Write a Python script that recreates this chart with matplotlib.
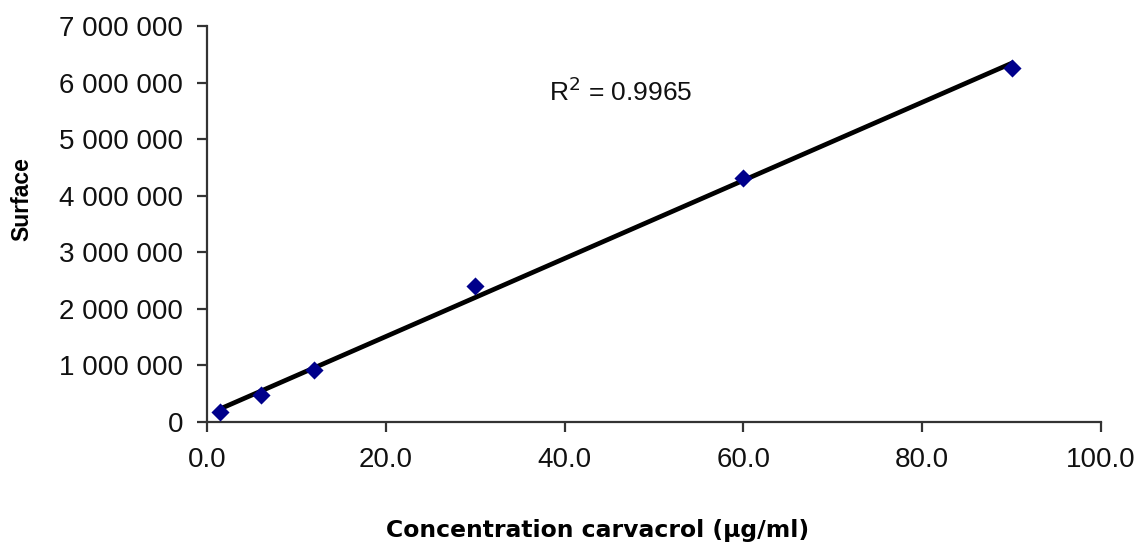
import matplotlib
matplotlib.use("Agg")
import matplotlib.pyplot as plt
import numpy as np
from matplotlib.ticker import FuncFormatter, MultipleLocator

plt.rcParams['font.family'] = ['Liberation Sans', 'DejaVu Sans']

conc = [1.5, 6.0, 12.0, 30.0, 60.0, 90.0]
surface = [180000, 480000, 920000, 2400000, 4310000, 6260000]
r2_text = "R$^2$ = 0.9965"

fig = plt.figure(figsize=(11.39, 5.46), dpi=100)
ax = fig.add_axes([0.1817, 0.2271, 0.785, 0.7253])

slope, intercept = np.polyfit(conc, surface, 1)
xl = np.array([min(conc), max(conc)])
ax.plot(xl, slope * xl + intercept, color='black', lw=3.4, zorder=2)
ax.scatter(conc, surface, marker='D', s=85, color='#00008B', zorder=3, linewidths=0)

ax.set_xlim(0, 100)
ax.set_ylim(0, 7000000)
ax.xaxis.set_major_locator(MultipleLocator(20))
ax.yaxis.set_major_locator(MultipleLocator(1000000))
ax.xaxis.set_major_formatter(FuncFormatter(lambda v, p: f"{v:.1f}"))
ax.yaxis.set_major_formatter(FuncFormatter(lambda v, p: f"{int(round(v)):,}".replace(",", " ")))

for s in ['top', 'right']:
    ax.spines[s].set_visible(False)
for s in ['left', 'bottom']:
    ax.spines[s].set_linewidth(1.6)
    ax.spines[s].set_color('#333333')
ax.tick_params(axis='both', direction='out', length=7, width=1.6, color='#333333',
               labelsize=20, labelcolor='#111111')
ax.tick_params(axis='x', pad=11)
ax.tick_params(axis='y', pad=10)

ax.set_xlabel("Concentration carvacrol (µg/ml)", fontsize=16.9, fontweight='bold',
              family=['DejaVu Sans'])
ax.xaxis.set_label_coords(0.437, -0.273)
ax.xaxis.label.set_va('center')
ax.set_ylabel("Surface", fontsize=16.5, fontweight='bold')
ax.yaxis.set_label_coords(-0.207, 0.563)
ax.yaxis.label.set_va('center')

ax.text(38.3, 5830000, r2_text, fontsize=19, va='center', ha='left', color='#111111')

fig.savefig("out.png", dpi=100)
